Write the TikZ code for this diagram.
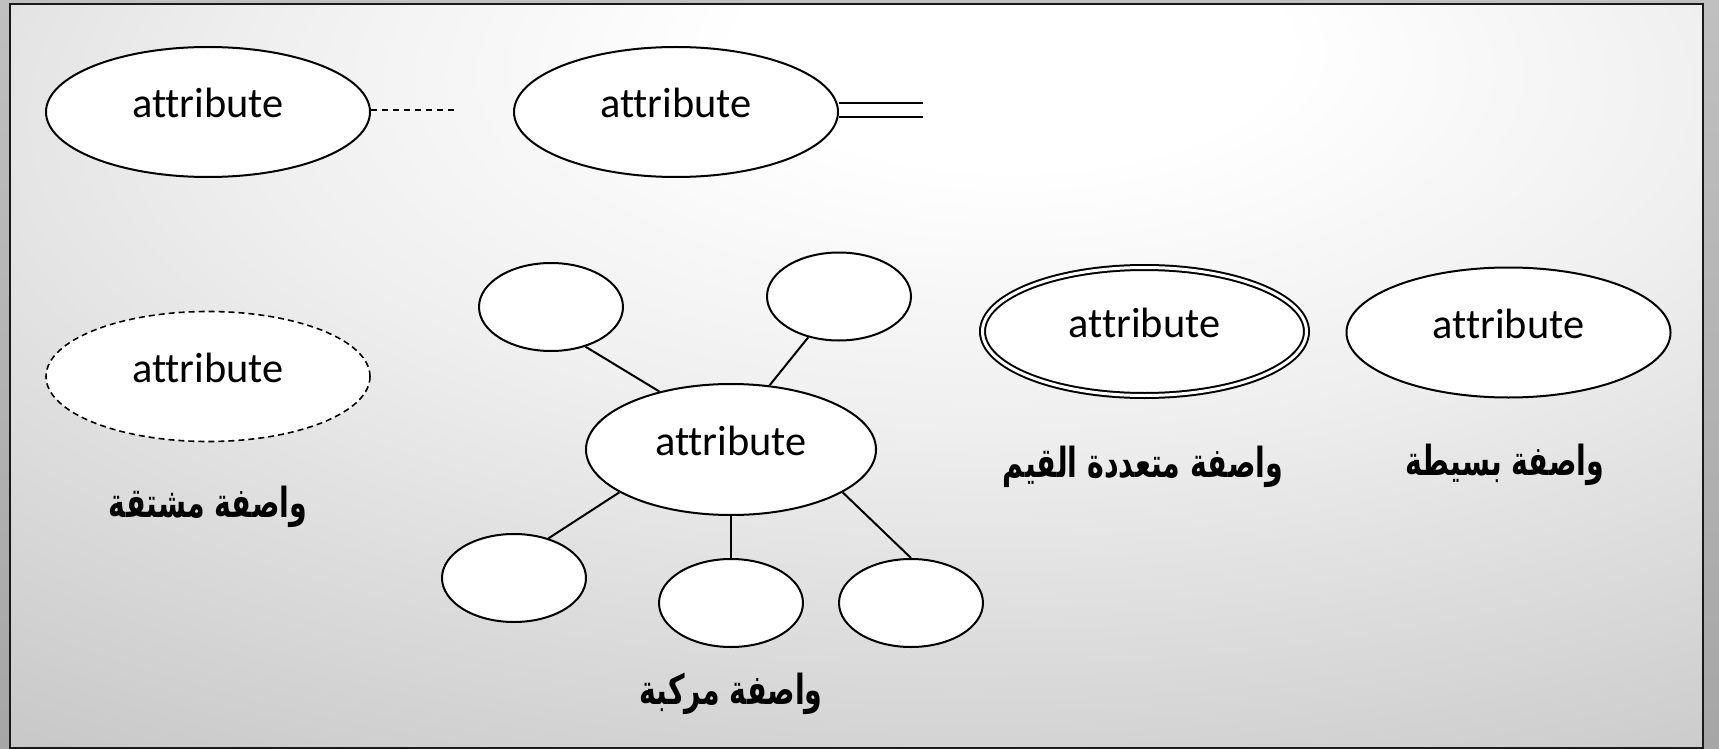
\documentclass[tikz,border=0pt]{standalone}
\usepackage{fontspec}
\usetikzlibrary{shapes.geometric}
\setmainfont{Carlito}[Ligatures=NoCommon]
\newfontfamily\arabicfont[Script=Arabic]{DejaVu Sans}
\TeXXeTstate=1
\definecolor{framec}{HTML}{1A1A1A}
\definecolor{outtop}{HTML}{C0C0C0}
\definecolor{outbot}{HTML}{A6A6A6}
\definecolor{gA}{HTML}{EFEFEF}
\definecolor{gB}{HTML}{C6C6C6}
\definecolor{gC}{HTML}{ADADAD}
\definecolor{gD}{HTML}{A0A0A0}
\pgfdeclareradialshading{bgrad}{\pgfpoint{5bp}{24bp}}{color(0bp)=(white); color(8bp)=(white); color(22bp)=(gA); color(48bp)=(gB); color(70bp)=(gC); color(100bp)=(gD)}
\newcommand{\arlabel}[1]{\scalebox{0.79}[1.15]{\beginR #1\endR}}
\tikzset{
  attr/.style={ellipse, draw, line width=1pt, fill=white, inner sep=0pt,
    minimum width=162pt, minimum height=65pt,
    font=\fontsize{21.2}{25}\selectfont, text height=12pt, text depth=6pt},
  smallattr/.style={ellipse, draw, line width=1pt, fill=white, inner sep=0pt,
    minimum width=72pt, minimum height=44pt},
  link/.style={line width=1pt},
  lbl/.style={inner sep=0pt, font=\arabicfont\bfseries\fontsize{18}{22}\selectfont}
}
\begin{document}
\begin{tikzpicture}[x=0.5pt,y=-0.5pt]
\useasboundingbox (0,0) rectangle (1719,749);
\shade[top color=outtop, bottom color=outbot] (0,0) rectangle (1719,749);
\shade[shading=bgrad] (10,4) rectangle (1703,748);
\draw[framec, line width=1.2pt] (10,4) rectangle (1703,748);

% derived + multivalued legend (top row)
\node[attr] (A) at (208,112) {attribute};
\node[attr] (B) at (676,112) {attribute};
\coordinate (Aend) at (456,110);
\draw[line width=0.8pt, dash pattern=on 3pt off 2.5pt] (A.east |- Aend) -- (Aend);
\coordinate (Bu) at (923,103);
\coordinate (Bl) at (923,117);
\draw[link] (B.east |- Bu) -- (Bu);
\draw[link] (B.east |- Bl) -- (Bl);

% derived attribute
\node[attr, line width=0.8pt, dash pattern=on 3pt off 2pt] (C) at (208,376.5) {attribute};
\node[lbl] (L1) at (208,507) {\arlabel{واصفة مشتقة}};

% composite attribute
\node[attr, minimum width=145pt, minimum height=65.5pt] (D) at (731,449.5) {attribute};
\node[smallattr] (E1) at (551,307) {};
\node[smallattr] (E2) at (839,296.5) {};
\node[smallattr] (E3) at (514,578) {};
\node[smallattr] (E4) at (731,603) {};
\node[smallattr] (E5) at (911,603) {};
\draw[link] (E1.311.5) -- (D.141.2);
\draw[link] (E2.233.3) -- (D.59.2);
\draw[link] (D.201.8) -- (E3.49.8);
\draw[link] (D.south) -- (E4.north);
\draw[link] (D.339.3) -- (E5.north);
\node[lbl] (L2) at (731,694) {\arlabel{واصفة مركبة}};

% multivalued attribute
\node[attr, double, double distance=1.5pt, minimum width=162pt, minimum height=64pt] (F) at (1144.5,331.5) {attribute};
\node[lbl] (L3) at (1143,467) {\arlabel{واصفة متعددة القيم}};

% simple attribute
\node[attr] (G) at (1508.5,332.5) {attribute};
\node[lbl] (L4) at (1505,465) {\arlabel{واصفة بسيطة}};
\end{tikzpicture}
\end{document}
